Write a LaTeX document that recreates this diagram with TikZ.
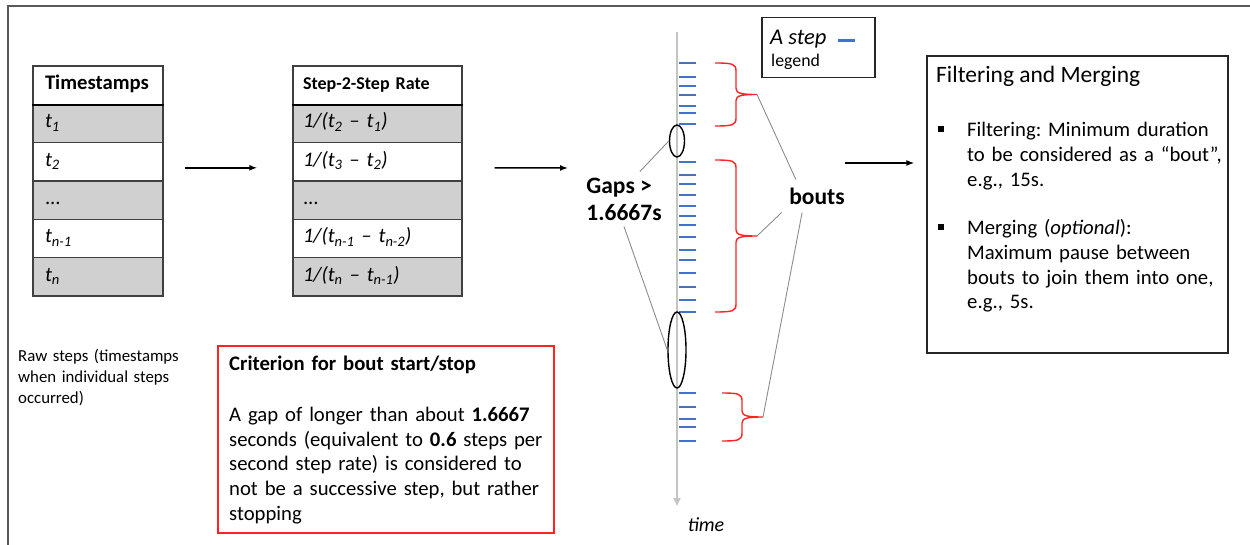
\documentclass[tikz,border=0pt]{standalone}
\usepackage{fontspec}
\setmainfont{Carlito}
\usetikzlibrary{arrows.meta,positioning,shapes.geometric}
\frenchspacing

\definecolor{rowgray}{RGB}{208,208,208}
\definecolor{stepblue}{RGB}{68,114,196}
\definecolor{boutred}{RGB}{255,35,35}
\definecolor{notegray}{RGB}{140,140,140}
\definecolor{axisgray}{RGB}{196,196,196}

\newcommand{\fsmall}{\fontsize{16.8}{21}\selectfont}
\newcommand{\fbody}{\fontsize{20.7}{24.6}\selectfont}
\newcommand{\fhead}{\fontsize{18}{21}\selectfont}
\newcommand{\fbig}{\fontsize{23.5}{27}\selectfont}
\newcommand{\flegend}{\fontsize{17.8}{21}\selectfont}

% right-opening curly brace from y=#4 to y=#5, tail at x=#1, spine at #2, tip at #3 (named #6)
\newcommand{\boutbrace}[6]{%
  \draw[bout] (#1,#4) .. controls ({#2-3},#4) and (#2,{#4+1}) .. (#2,{#4+8})
    -- (#2,{(#4+#5)/2-6}) .. controls (#2,{(#4+#5)/2-1}) and ({#2+6},{(#4+#5)/2}) .. (#3,{(#4+#5)/2})
    .. controls ({#2+6},{(#4+#5)/2}) and (#2,{(#4+#5)/2+1}) .. (#2,{(#4+#5)/2+6})
    -- (#2,{#5-8}) .. controls (#2,{#5-1}) and ({#2-3},#5) .. (#1,#5);
  \coordinate (#6) at (#3,{(#4+#5)/2});}

\begin{document}
\begin{tikzpicture}[x=1pt,y=-1pt,
  cell/.style={draw=black!75,line width=1.4pt,minimum height=38.33pt,inner ysep=0pt,align=left,text height=14pt,text depth=5pt,font=\fbody\itshape},
  tscell/.style={cell,inner xsep=12pt,minimum width=130pt,text width=106pt},
  ratecell/.style={cell,inner xsep=10pt,minimum width=169pt,text width=149pt},
  flow/.style={-{Latex[length=8pt,width=6pt]},line width=1.5pt},
  axis/.style={draw=axisgray,line width=2.2pt,-{Triangle[length=8pt,width=7pt]}},
  stepmark/.style={draw=stepblue,line width=1.3pt},
  gapmark/.style={ellipse,draw,line width=1.4pt,inner sep=0pt},
  bout/.style={draw=boutred,line width=1.4pt},
  note/.style={draw=notegray,line width=0.9pt},
  panel/.style={draw=black!85,line width=1.3pt}]
\useasboundingbox (0,0) rectangle (1250,545);
\draw[draw=black!65,line width=1.5pt] (8,545) -- (8,6) -- (1250,6);

\node[tscell,font=\fbody\bfseries] (ts0) at (98,85.2) {Timestamps};
\node[tscell,fill=rowgray] (ts1) at (98,123.5) {t\textsubscript{1}};
\node[tscell] (ts2) at (98,161.8) {t\textsubscript{2}};
\node[tscell,fill=rowgray] (ts3) at (98,200.2) {\upshape ...};
\node[tscell] (ts4) at (98,238.5) {t\textsubscript{n-1}};
\node[tscell,fill=rowgray] (ts5) at (98,276.8) {t\textsubscript{n}};
\draw[line width=2.6pt] (ts0.south west) -- (ts0.south east);

\node[ratecell,font=\fhead\bfseries] (rate0) at (377.5,85.2) {Step-2-Step Rate};
\node[ratecell,fill=rowgray] (rate1) at (377.5,123.5) {1/(t\textsubscript{2} – t\textsubscript{1})};
\node[ratecell] (rate2) at (377.5,161.8) {1/(t\textsubscript{3} – t\textsubscript{2})};
\node[ratecell,fill=rowgray] (rate3) at (377.5,200.2) {\upshape ...};
\node[ratecell] (rate4) at (377.5,238.5) {1/(t\textsubscript{n-1} – t\textsubscript{n-2})};
\node[ratecell,fill=rowgray] (rate5) at (377.5,276.8) {1/(t\textsubscript{n} – t\textsubscript{n-1})};
\draw[line width=2.6pt] (rate0.south west) -- (rate0.south east);

\node[anchor=base west,text width=180pt,align=left,font=\fsmall,inner sep=0pt] (rawnote) at (18,361) {Raw steps (timestamps\\when individual steps\\occurred)};

\node[draw=boutred,line width=1.3pt,minimum width=336pt,minimum height=187pt] (crit) at (386,439.5) {};
\node[anchor=base west,text width=320pt,align=left,font=\fbody,inner sep=0pt] (crittext) at (229,370) {\textbf{Criterion for bout start/stop}\\[27pt]A gap of longer than about \textbf{1.6667}\\seconds (equivalent to \textbf{0.6} steps per\\second step rate) is considered to\\not be a successive step, but rather\\stopping};

\coordinate (axistop) at (677,32);
\coordinate (axisend) at (677,506);
\draw[axis] (axistop) -- (axisend);
\node[font=\fontsize{20}{24}\selectfont\itshape] (timelabel) at (706,525) {time};
\foreach \t in {63,77,86,95,106,113,124,162,175,184,195,206,216,225,237,250,260,273,287,300,312,393,407,419,427,441}
  \draw[stepmark] (679,\t) -- (696,\t);

\node[gapmark,minimum width=15pt,minimum height=32pt] (gap1) at (677,141) {};
\node[gapmark,minimum width=18pt,minimum height=76pt] (gap2) at (677,350) {};

\boutbrace{715}{736}{757}{63}{126}{tip1}
\boutbrace{715}{736}{757}{160}{312}{tip2}
\boutbrace{722}{742}{763}{393}{441}{tip3}

\node[font=\fbig\bfseries,align=left,inner sep=6pt] (gaps) at (624,199) {Gaps >\\1.6667s};
\node[font=\fbig\bfseries,inner sep=8pt] (bouts) at (817,196) {bouts};
\draw[note] (gaps.60) -- (gap1.west);
\draw[note] (gaps.south) -- (gap2.west);
\draw[note] (bouts.142) -- (tip1);
\draw[note] (bouts.205) -- (tip2);
\draw[note] (bouts.228) -- (tip3);

\node[panel,minimum width=113pt,minimum height=60pt] (legend) at (818.5,47.5) {};
\node[anchor=base west,font=\fontsize{22.5}{26}\selectfont\itshape,inner sep=0pt] (legendstep) at (770,45) {A step};
\draw[draw=stepblue,line width=3pt] (838,41) -- (855,41);
\node[anchor=base west,font=\flegend,inner sep=0pt] (legendtext) at (771,67) {legend};

\node[panel,minimum width=301pt,minimum height=297pt] (filt) at (1077.5,204.5) {};
\node[anchor=base west,font=\fbig,inner sep=0pt] (filttitle) at (936,83) {Filtering and Merging};
\node[fill=black,minimum size=6pt,inner sep=0pt] (bul1) at (941,129) {};
\node[fill=black,minimum size=6pt,inner sep=0pt] (bul2) at (941,227) {};
\node[anchor=base west,text width=255pt,align=left,font=\fbody,inner sep=0pt] (filtering) at (967,137) {Filtering: Minimum duration\\to be considered as a “bout”,\\e.g., 15s.};
\node[anchor=base west,text width=255pt,align=left,font=\fbody,inner sep=0pt] (merging) at (967,235) {Merging (\textit{optional}):\\Maximum pause between\\bouts to join them into one,\\e.g., 5s.};

\coordinate (axisin) at (568,168);
\coordinate (boutsout) at (845,163);
\draw[flow,shorten <=21pt,shorten >=35pt] ([yshift=-6pt]ts2.east) -- ([yshift=-6pt]rate2.west);
\draw[flow,shorten <=32pt] ([yshift=-6pt]rate2.east) -- (axisin);
\draw[flow,shorten >=12pt] (boutsout) -- (boutsout -| filt.west);
\end{tikzpicture}
\end{document}
